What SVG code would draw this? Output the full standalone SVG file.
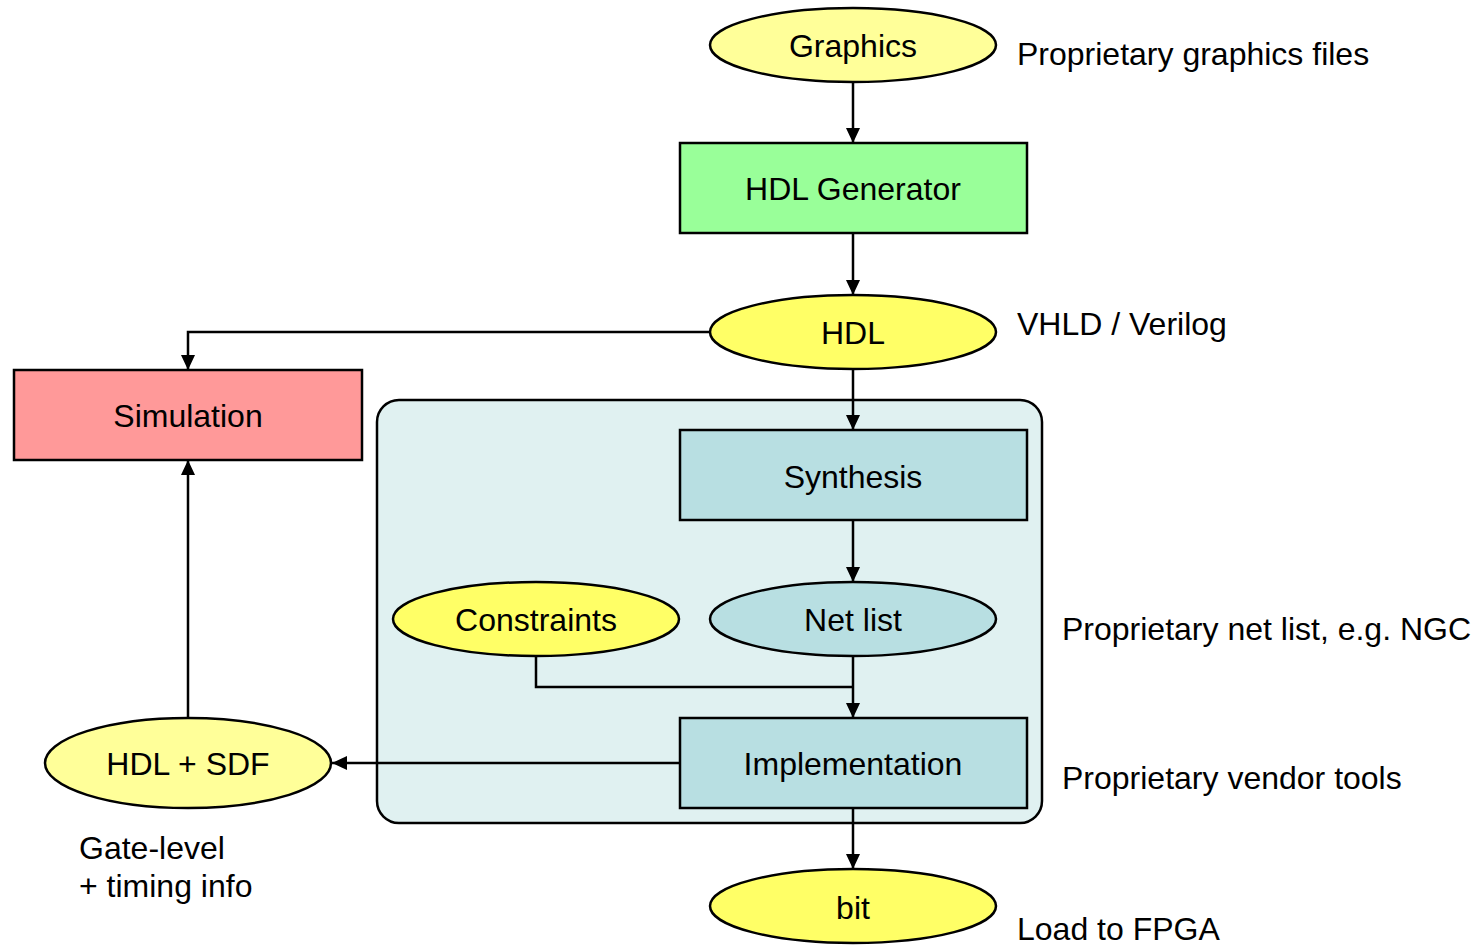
<svg xmlns="http://www.w3.org/2000/svg" width="1475" height="945" viewBox="0 0 1475 945">
  <defs>
    <marker id="arrow" markerWidth="15" markerHeight="14" refX="15" refY="7" orient="auto" markerUnits="userSpaceOnUse" viewBox="0 0 15 14">
      <path d="M0,0 L15,7 L0,14 z" fill="#000"/>
    </marker>
    <style>
      text { font-family: "Liberation Sans", Arial, sans-serif; font-size: 32px; fill: #000; }
      .c { text-anchor: middle; }
      .node { stroke: #000; stroke-width: 2.5; }
      .edge { fill: none; stroke: #000; stroke-width: 2.5; marker-end: url(#arrow); }
      .line { fill: none; stroke: #000; stroke-width: 2.5; }
    </style>
  </defs>

  <rect width="1475" height="945" fill="#fff"/>

  <!-- vendor tool container -->
  <g id="vendor-tools">
    <rect x="377" y="400" width="665" height="423" rx="22" ry="22" fill="#E0F1F1" stroke="#000" stroke-width="2.5"/>
  </g>

  <g id="connectors">
    <path class="edge" d="M853,82 L853,143"/>
    <path class="edge" d="M853,233 L853,295"/>
    <path class="edge" d="M710,332 L188,332 L188,370"/>
    <path class="edge" d="M853,369 L853,430"/>
    <path class="edge" d="M853,520 L853,582"/>
    <path class="line" d="M536,656 L536,687 L853,687"/>
    <path class="edge" d="M853,656 L853,718"/>
    <path class="edge" d="M680,763 L332,763"/>
    <path class="edge" d="M188,718 L188,460"/>
    <path class="edge" d="M853,808 L853,869"/>
  </g>

  <g id="graphics">
    <ellipse class="node" cx="853" cy="45" rx="143" ry="37" fill="#FFFF99"/>
    <text class="c" x="853" y="57">Graphics</text>
  </g>
  <g id="hdl-generator">
    <rect class="node" x="680" y="143" width="347" height="90" fill="#99FF99"/>
    <text class="c" x="853" y="200">HDL Generator</text>
  </g>
  <g id="hdl">
    <ellipse class="node" cx="853" cy="332" rx="143" ry="37" fill="#FFFF66"/>
    <text class="c" x="853" y="344">HDL</text>
  </g>
  <g id="simulation">
    <rect class="node" x="14" y="370" width="348" height="90" fill="#FF9999"/>
    <text class="c" x="188" y="427">Simulation</text>
  </g>
  <g id="synthesis">
    <rect class="node" x="680" y="430" width="347" height="90" fill="#B8DFE2"/>
    <text class="c" x="853" y="488">Synthesis</text>
  </g>
  <g id="constraints">
    <ellipse class="node" cx="536" cy="619" rx="143" ry="37" fill="#FFFF66"/>
    <text class="c" x="536" y="631">Constraints</text>
  </g>
  <g id="net-list">
    <ellipse class="node" cx="853" cy="619" rx="143" ry="37" fill="#B8DFE2"/>
    <text class="c" x="853" y="631">Net list</text>
  </g>
  <g id="implementation">
    <rect class="node" x="680" y="718" width="347" height="90" fill="#B8DFE2"/>
    <text class="c" x="853" y="775">Implementation</text>
  </g>
  <g id="hdl-sdf">
    <ellipse class="node" cx="188" cy="763" rx="143" ry="45" fill="#FFFF99"/>
    <text class="c" x="188" y="775">HDL + SDF</text>
  </g>
  <g id="bit">
    <ellipse class="node" cx="853" cy="906" rx="143" ry="37" fill="#FFFF66"/>
    <text class="c" x="853" y="919">bit</text>
  </g>

  <g id="annotations">
    <text x="1017" y="65">Proprietary graphics files</text>
    <text x="1017" y="335">VHLD / Verilog</text>
    <text x="1062" y="640">Proprietary net list, e.g. NGC</text>
    <text x="1062" y="789">Proprietary vendor tools</text>
    <text x="79" y="859">Gate-level</text>
    <text x="79" y="897">+ timing info</text>
    <text x="1017" y="940">Load to FPGA</text>
  </g>
</svg>
